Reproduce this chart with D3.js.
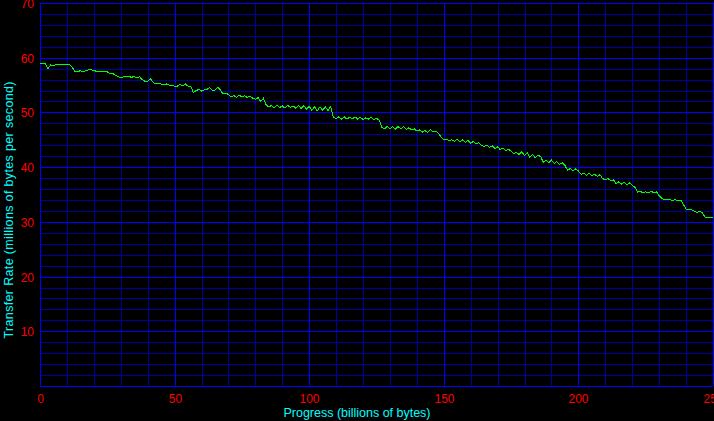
<!DOCTYPE html>
<html><head><meta charset="utf-8">
<script src="https://cdn.jsdelivr.net/npm/d3@7"></script>
<style>
html,body{margin:0;padding:0;background:#000;overflow:hidden}
svg{display:block}
</style></head>
<body>
<svg id="c" width="714" height="421"></svg>
<script>
const xTicks = [0, 50, 100, 150, 200, 250];
const yTicks = [10, 20, 30, 40, 50, 60, 70];
const xMinor = [10,20,30,40,60,70,80,90,110,120,130,140,160,170,180,190,210,220,230,240];
const yMinor = [2,4,6,8,12,14,16,18,22,24,26,28,32,34,36,38,42,44,46,48,52,54,56,58,62,64,66,68];
const progress = d3.range(0, 251); // billions of bytes, one sample per unit
const rate = [
58.9,58.9,58.9,58.0,58.7,58.5,58.8,58.7,58.8,58.8,
58.8,58.8,58.2,57.5,57.5,57.6,57.4,57.6,57.8,57.8,
57.7,57.5,57.5,57.5,57.5,57.4,57.1,57.1,56.8,56.5,
56.4,56.5,56.6,56.6,56.4,56.6,56.3,56.5,56.0,55.7,
55.7,56.2,55.5,55.2,55.2,55.2,55.0,55.2,55.0,55.0,
54.8,54.8,55.1,54.9,55.2,54.8,54.8,53.6,54.0,54.2,
53.9,54.1,54.2,54.5,54.0,54.1,54.6,54.1,53.4,53.5,
53.3,52.8,53.1,52.7,53.2,52.8,53.1,52.7,53.0,52.6,
52.4,52.7,52.0,52.6,51.4,51.0,51.3,50.8,51.3,50.9,
51.2,50.8,51.3,50.9,51.2,50.8,51.3,50.7,51.2,50.6,
51.1,50.4,51.0,50.3,51.0,50.4,51.0,50.3,51.1,49.1,
48.9,49.2,48.8,49.2,48.8,49.1,48.8,49.2,48.8,49.1,
48.7,49.0,48.8,49.1,48.7,48.9,48.6,47.3,47.0,47.5,
47.0,47.4,46.9,47.4,47.0,47.4,46.9,47.2,46.8,47.0,
46.6,46.8,46.4,46.7,46.3,46.9,46.4,46.6,46.2,45.5,
45.0,45.1,44.8,45.0,44.7,45.1,44.6,45.0,44.5,44.9,
44.4,44.7,44.2,44.5,44.0,43.8,44.0,43.6,43.9,43.4,
43.7,43.2,43.5,43.0,43.3,42.9,42.5,42.7,42.3,42.8,
42.1,42.6,41.8,42.3,41.7,42.2,41.9,40.9,41.3,40.8,
41.3,40.7,41.0,40.5,40.8,40.3,39.4,39.8,39.3,39.7,
39.3,38.7,38.9,38.5,38.9,38.4,38.7,38.3,38.6,37.9,
37.7,37.9,37.5,37.7,37.0,37.3,36.9,37.2,36.8,37.1,
36.7,36.3,35.4,35.6,35.3,35.5,35.3,35.6,35.3,35.5,
34.8,34.3,34.0,34.0,34.1,33.9,34.1,33.8,34.0,33.2,
32.3,32.2,32.2,32.0,31.7,31.9,31.7,30.9,30.8,30.8,
30.8
];
const xTitle = "Progress (billions of bytes)";
const yTitle = "Transfer Rate (millions of bytes per second)";

const svg = d3.select("#c");
svg.append("rect").attr("width",714).attr("height",421).attr("fill","#000");

const x = d3.scaleLinear().domain([0,250]).range([40,713]);
const y = d3.scaleLinear().domain([0,70]).range([386,3]);
const pTop = y(70), pBot = y(0), pLeft = x(0), pRight = x(250);

function snap(v){ return Math.round(v)+0.5; }

// minor grid
const gMinorX = svg.append("g").attr("transform",`translate(0,${pBot})`)
  .call(d3.axisBottom(x).tickValues(xMinor).tickSize(-(pBot-pTop)).tickFormat(""));
const gMinorY = svg.append("g").attr("transform",`translate(${pLeft},0)`)
  .call(d3.axisLeft(y).tickValues(yMinor).tickSize(-(pRight-pLeft)).tickFormat(""));
[gMinorX,gMinorY].forEach(g=>{
  g.select(".domain").remove();
  g.selectAll("line").attr("stroke","#0000a0").attr("stroke-width",1).attr("shape-rendering","crispEdges");
});
gMinorX.selectAll(".tick").attr("transform",d=>`translate(${snap(x(d))},0)`);
gMinorY.selectAll(".tick").attr("transform",d=>`translate(0,${snap(y(d))})`);

// major grid + labels
const gX = svg.append("g").attr("transform",`translate(0,${pBot})`)
  .call(d3.axisBottom(x).tickValues(xTicks).tickSize(-(pBot-pTop)).tickPadding(0));
const gY = svg.append("g").attr("transform",`translate(${pLeft},0)`)
  .call(d3.axisLeft(y).tickValues([0].concat(yTicks)).tickSize(-(pRight-pLeft)).tickPadding(0));
[gX,gY].forEach(g=>{
  g.select(".domain").remove();
  g.selectAll("line").attr("stroke","#0000ff").attr("stroke-width",1).attr("shape-rendering","crispEdges");
  g.selectAll("text").attr("fill","#ff0000").style("font-family","'Liberation Sans', Arial, sans-serif").style("font-size","12px");
});
gX.selectAll(".tick").attr("transform",d=>`translate(${snap(x(d))},0)`);
gX.selectAll("text").attr("y",17).attr("dy",0);
gY.selectAll(".tick").attr("transform",d=>`translate(0,${snap(y(d))})`);
gY.selectAll("text").attr("x",-6).attr("dy","0.35em");
gY.selectAll(".tick").filter(d=>d===0).select("text").remove();

// data line
const line = d3.line().x((d,i)=>x(progress[i])).y(d=>y(d));
svg.append("path").datum(rate)
  .attr("d",line).attr("fill","none").attr("stroke","#00ff00").attr("stroke-width",1)
  .attr("shape-rendering","crispEdges");

// titles
svg.append("text").attr("x",357).attr("y",417).attr("text-anchor","middle")
  .attr("textLength",147).attr("lengthAdjust","spacing")
  .attr("fill","#00ffff").style("font-family","'Liberation Sans', Arial, sans-serif").style("font-size","12.5px")
  .text(xTitle);
svg.append("text").attr("transform","translate(13,210) rotate(-90)").attr("text-anchor","middle")
  .attr("textLength",257).attr("lengthAdjust","spacing")
  .attr("fill","#00ffff").style("font-family","'Liberation Sans', Arial, sans-serif").style("font-size","12.5px")
  .text(yTitle);
</script>
</body></html>
